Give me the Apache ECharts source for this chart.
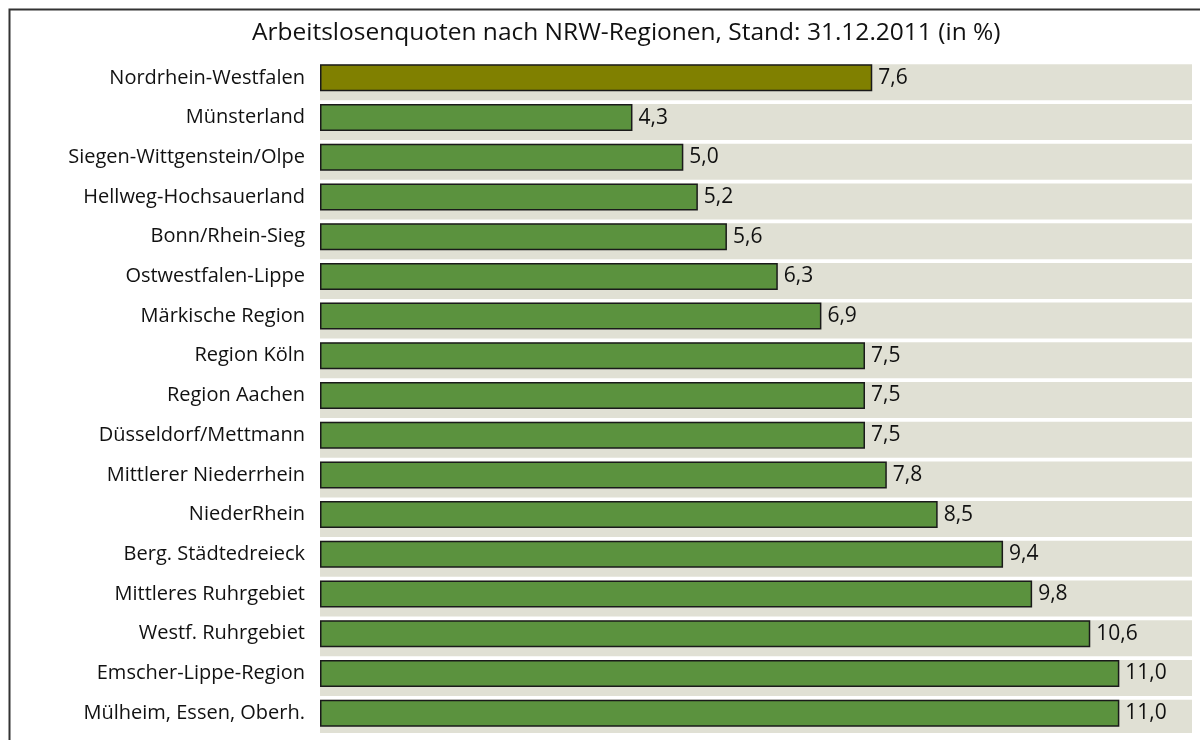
<!DOCTYPE html>
<html><head><meta charset="utf-8">
<script src="https://cdn.jsdelivr.net/npm/echarts@6/dist/echarts.min.js"></script>
<style>html,body{margin:0;padding:0;background:#fff}#c{width:1200px;height:740px}</style>
</head><body><div id="c"></div>
<script>
const categories = ["Nordrhein-Westfalen","Münsterland","Siegen-Wittgenstein/Olpe","Hellweg-Hochsauerland","Bonn/Rhein-Sieg","Ostwestfalen-Lippe","Märkische Region","Region Köln","Region Aachen","Düsseldorf/Mettmann","Mittlerer Niederrhein","NiederRhein","Berg. Städtedreieck","Mittleres Ruhrgebiet","Westf. Ruhrgebiet","Emscher-Lippe-Region","Mülheim, Essen, Oberh."];
const values = [7.6,4.3,5.0,5.2,5.6,6.3,6.9,7.5,7.5,7.5,7.8,8.5,9.4,9.8,10.6,11.0,11.0];
const axisMax = 12;
const title = "Arbeitslosenquoten nach NRW-Regionen, Stand: 31.12.2011 (in %)";

const FONT = "Open Sans";
const chart = echarts.init(document.getElementById('c'), null, {renderer:'canvas'});
chart.setOption({
  animation:false,
  title:{text:title,left:247,top:16,textStyle:{fontFamily:FONT,fontSize:24.5,fontWeight:'normal',color:'#111'}},
  graphic:[{type:'rect',left:7,top:7,shape:{width:1220,height:800},style:{fill:'none',stroke:'#333',lineWidth:2},z:-10}],
  grid:{left:320,right:8,top:58,bottom:7},
  xAxis:{type:'value',min:0,max:axisMax,show:false},
  yAxis:{type:'category',data:categories,inverse:true,axisLine:{show:false},axisTick:{show:false},
    axisLabel:{fontFamily:FONT,fontSize:20,color:'#111',margin:15}},
  series:[
    {type:'bar',data:categories.map(()=>axisMax),barWidth:36,silent:true,itemStyle:{color:'#e0e0d4'},z:1},
    {type:'bar',data:values.map((v,i)=>({value:v,itemStyle:{color:i===0?'#808000':'#5b923e'}})),barWidth:27,barGap:'-100%',
      itemStyle:{borderColor:'#1a1a1a',borderWidth:1.5},
      label:{show:true,position:'right',distance:6,fontFamily:FONT,fontSize:21,color:'#111',formatter:p=>p.value.toFixed(1).replace('.',',')},z:2}
  ]
});
</script></body></html>
